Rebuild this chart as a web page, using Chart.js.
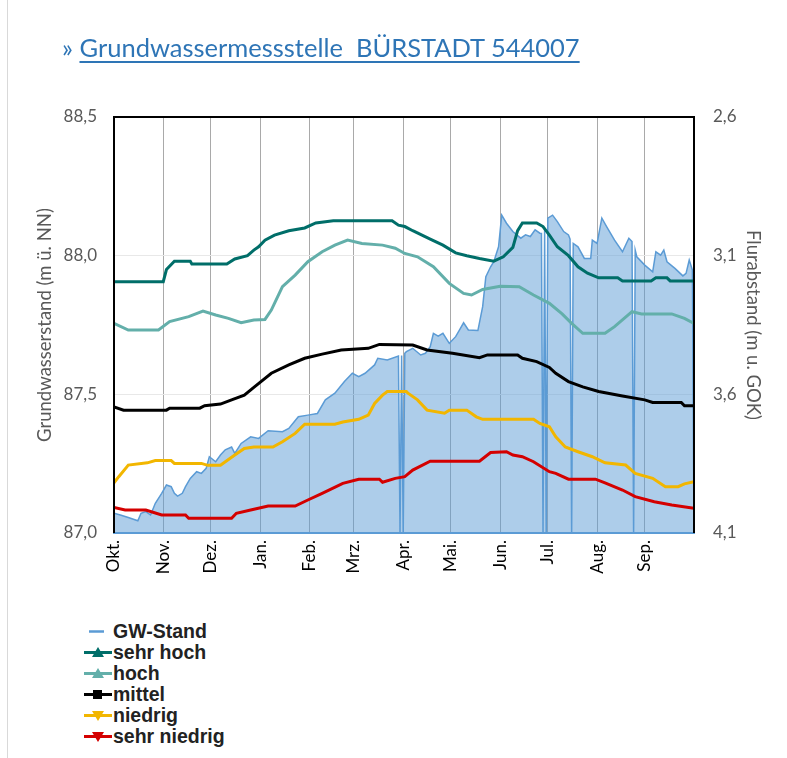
<!DOCTYPE html>
<html lang="de">
<head>
<meta charset="utf-8">
<title>Grundwassermessstelle BÜRSTADT 544007</title>
<script src="https://cdn.jsdelivr.net/npm/chart.js@4.4.1/dist/chart.umd.min.js"></script>
<style>
    html, body { margin: 0; padding: 0; background: #fff; }
    #wrap { position: relative; width: 787px; height: 758px; overflow: hidden; }
    #kante { position: absolute; left: 7px; top: 0; width: 1px; height: 758px; background: #d9d9d9; }
    #chart { position: absolute; left: 0; top: 0; }
    #titel { position: absolute; left: 62px; top: 32px; font: 25.5px Lato, sans-serif; color: #2E75B6; white-space: pre; }
    #titel span { text-decoration: underline; text-decoration-thickness: 2px; text-underline-offset: 4px; }
    #legende { position: absolute; left: 83px; top: 621px; font: bold 19.5px "Liberation Sans", Arial, sans-serif; color: #222; }
    .zeile { display: flex; align-items: center; height: 21px; white-space: nowrap; }
    .zeile svg { width: 30px; height: 21px; flex: none; }
</style>
</head>
<body>
<div id="wrap">
    <div id="kante"></div>
    <canvas id="chart" width="787" height="600"></canvas>
    <div id="titel">» <span>Grundwassermessstelle  BÜRSTADT 544007</span></div>
    <div id="legende"></div>
</div>
<script>
// Achsen
const monate = ['Okt.', 'Nov.', 'Dez.', 'Jan.', 'Feb.', 'Mrz.', 'Apr.', 'Mai.', 'Jun.', 'Jul.', 'Aug.', 'Sep.'];
const monatsTage = [0, 31, 61, 92, 123, 151, 182, 212, 243, 273, 304, 334];
const ticksLinks = [87.0, 87.5, 88.0, 88.5];   // m ü. NN
const ticksRechts = [2.6, 3.1, 3.6, 4.1];      // m u. GOK

// [Tag im Abflussjahr, Wert m ü. NN]
const gwStand = [
    [0, 87.071], [4, 87.065], [9, 87.056], [15, 87.044], [17, 87.071], [20, 87.077], [23, 87.065],
    [26, 87.107], [30, 87.143], [33, 87.173], [36, 87.167], [38, 87.143], [40, 87.133], [43, 87.143],
    [45, 87.167], [48, 87.197], [52, 87.221], [55, 87.215], [58, 87.233], [60, 87.275], [64, 87.257],
    [67, 87.281], [70, 87.30], [74, 87.31], [76, 87.287], [80, 87.323], [86, 87.347], [91, 87.341],
    [97, 87.369], [106, 87.365], [110, 87.377], [116, 87.419], [122, 87.425], [128, 87.431],
    [133, 87.48], [139, 87.504], [145, 87.546], [150, 87.576], [154, 87.564], [158, 87.576],
    [164, 87.606], [166, 87.63], [172, 87.624], [179, 87.638], [180, 87.0], [181, 87.64], [182, 87.0],
    [183, 87.648], [184, 87.654], [188, 87.666], [193, 87.642], [196, 87.648], [199, 87.672],
    [201, 87.72], [204, 87.71], [207, 87.72], [211, 87.684], [215, 87.708], [218, 87.738],
    [220, 87.758], [223, 87.732], [229, 87.73], [232, 87.816], [234, 87.924], [237, 87.96],
    [239, 87.978], [242, 88.032], [244, 88.146], [247, 88.117], [251, 88.087], [256, 88.063],
    [259, 88.075], [262, 88.069], [265, 88.093], [268, 88.081], [269, 88.08], [270, 87.0],
    [271, 88.10], [272, 87.0], [273, 88.135], [276, 88.146], [279, 88.123], [283, 88.087],
    [286, 88.075], [287, 88.06], [288, 87.0], [289, 88.044], [292, 88.032], [296, 87.99],
    [300, 87.99], [301, 88.056], [304, 88.044], [307, 88.135], [310, 88.105], [315, 88.056],
    [320, 88.014], [324, 88.063], [326, 88.051], [327, 87.0], [328, 88.02], [329, 87.996],
    [334, 87.966], [339, 87.942], [341, 88.014], [344, 88.002], [346, 88.02], [348, 87.978],
    [353, 87.954], [358, 87.927], [360, 87.936], [362, 87.984], [364, 87.948], [365, 87.0]
];
const sehrHoch = [
    [0, 87.906], [31, 87.906], [33, 87.95], [38, 87.98], [48, 87.98], [49, 87.97], [71, 87.97],
    [76, 87.988], [84, 88.0], [88, 88.02], [91, 88.032], [95, 88.056], [101, 88.074], [110, 88.09],
    [120, 88.10], [127, 88.118], [138, 88.126], [175, 88.126], [179, 88.11], [183, 88.105],
    [188, 88.09], [199, 88.06], [207, 88.038], [215, 88.01], [222, 88.0], [230, 87.99], [239, 87.98],
    [245, 87.996], [251, 88.03], [254, 88.09], [257, 88.118], [266, 88.118], [270, 88.105],
    [274, 88.074], [279, 88.032], [286, 88.0], [292, 87.96], [298, 87.937], [305, 87.92],
    [317, 87.92], [320, 87.909], [338, 87.909], [341, 87.92], [348, 87.92], [350, 87.909], [365, 87.909]
];
const hoch = [
    [0, 87.756], [9, 87.732], [28, 87.732], [35, 87.762], [47, 87.78], [56, 87.80], [64, 87.786],
    [72, 87.774], [80, 87.758], [88, 87.768], [95, 87.77], [99, 87.804], [106, 87.888], [114, 87.93],
    [122, 87.978], [131, 88.014], [139, 88.038], [147, 88.056], [156, 88.044], [169, 88.038],
    [177, 88.027], [183, 88.008], [191, 87.996], [201, 87.96], [211, 87.90], [220, 87.864],
    [225, 87.858], [232, 87.878], [243, 87.89], [255, 87.888], [264, 87.858], [274, 87.828],
    [282, 87.79], [288, 87.756], [295, 87.72], [309, 87.72], [315, 87.744], [326, 87.798],
    [332, 87.79], [351, 87.79], [359, 87.774], [365, 87.756]
];
const mittel = [
    [0, 87.455], [6, 87.443], [33, 87.443], [35, 87.45], [54, 87.45], [57, 87.459], [67, 87.465],
    [74, 87.48], [82, 87.497], [88, 87.525], [99, 87.576], [110, 87.606], [120, 87.63], [131, 87.645],
    [143, 87.66], [160, 87.666], [167, 87.68], [188, 87.678], [197, 87.66], [213, 87.648],
    [230, 87.632], [235, 87.642], [254, 87.642], [257, 87.63], [266, 87.618], [274, 87.597],
    [278, 87.576], [286, 87.546], [295, 87.527], [305, 87.51], [320, 87.494], [334, 87.48],
    [339, 87.471], [357, 87.471], [359, 87.459], [365, 87.459]
];
const niedrig = [
    [0, 87.181], [3, 87.203], [9, 87.245], [21, 87.253], [26, 87.261], [36, 87.261], [38, 87.251],
    [55, 87.251], [59, 87.244], [67, 87.244], [76, 87.281], [82, 87.305], [88, 87.31], [100, 87.31],
    [106, 87.329], [114, 87.359], [120, 87.392], [139, 87.392], [144, 87.40], [154, 87.41],
    [160, 87.425], [164, 87.467], [169, 87.497], [172, 87.51], [184, 87.51], [185, 87.504],
    [191, 87.48], [197, 87.443], [208, 87.432], [211, 87.443], [222, 87.443], [228, 87.419],
    [232, 87.41], [264, 87.41], [268, 87.395], [274, 87.383], [278, 87.347], [284, 87.31],
    [292, 87.293], [301, 87.275], [309, 87.253], [322, 87.245], [328, 87.215], [339, 87.197],
    [347, 87.167], [355, 87.167], [359, 87.177], [365, 87.185]
];
const sehrNiedrig = [
    [0, 87.092], [7, 87.083], [20, 87.083], [30, 87.065], [45, 87.065], [47, 87.053], [74, 87.053],
    [77, 87.071], [86, 87.083], [97, 87.097], [114, 87.097], [122, 87.119], [131, 87.143],
    [144, 87.179], [154, 87.194], [167, 87.194], [169, 87.183], [177, 87.197], [183, 87.203],
    [188, 87.227], [199, 87.259], [230, 87.259], [237, 87.29], [247, 87.293], [251, 87.281],
    [257, 87.275], [264, 87.257], [274, 87.221], [278, 87.215], [286, 87.194], [303, 87.194],
    [309, 87.181], [320, 87.155], [328, 87.131], [340, 87.113], [351, 87.101], [365, 87.089]
];

const toPts = arr => arr.map(([x, y]) => ({ x, y }));
const komma = v => v.toFixed(1).replace('.', ',');

function statLinie(label, data, color, pointStyle, rotation) {
    return {
        label, data: toPts(data), borderColor: color, backgroundColor: color,
        borderWidth: 3, pointRadius: 0, fill: false, tension: 0, order: 0,
        pointStyle, rotation
    };
}

// Rahmen um die Zeichenfläche (links, oben, rechts)
const rahmen = {
    id: 'rahmen',
    afterDatasetsDraw(chart) {
        const { ctx, chartArea: a } = chart;
        ctx.save();
        ctx.strokeStyle = '#000';
        ctx.lineWidth = 2;
        ctx.beginPath();
        ctx.moveTo(a.left, a.bottom);
        ctx.lineTo(a.left, a.top);
        ctx.lineTo(a.right, a.top);
        ctx.lineTo(a.right, a.bottom);
        ctx.stroke();
        ctx.restore();
    }
};

const chart = new Chart(document.getElementById('chart'), {
    type: 'line',
    data: {
        datasets: [
            {
                label: 'GW-Stand', data: toPts(gwStand), borderColor: '#5B9BD5',
                backgroundColor: 'rgba(91, 155, 213, 0.5)', borderWidth: 1.5, pointRadius: 0,
                fill: 'start', tension: 0, order: 1, pointStyle: 'line'
            },
            statLinie('sehr hoch', sehrHoch, '#006E69', 'triangle', 0),
            statLinie('hoch', hoch, '#63AFAA', 'triangle', 0),
            statLinie('mittel', mittel, '#000000', 'rect', 0),
            statLinie('niedrig', niedrig, '#F2B600', 'triangle', 180),
            statLinie('sehr niedrig', sehrNiedrig, '#D40000', 'triangle', 180)
        ]
    },
    options: {
        responsive: false,
        animation: false,
        layout: { padding: { top: 117, left: 0, right: 0, bottom: 0 } },
        plugins: { legend: { display: false }, tooltip: { enabled: false } },
        scales: {
            x: {
                type: 'linear', min: 0, max: 365,
                afterBuildTicks: s => { s.ticks = monatsTage.map(v => ({ value: v })); },
                afterFit: s => { s.height = 67; },
                ticks: {
                    callback: v => monate[monatsTage.indexOf(v)],
                    minRotation: 90, maxRotation: 90, autoSkip: false, padding: 7,
                    color: '#000', font: { family: 'Lato', size: 17 }
                },
                grid: { color: '#a9a9a9', lineWidth: 1, drawTicks: false },
                border: { color: '#5B9BD5', width: 2 }
            },
            y: {
                position: 'left', min: 87.0, max: 88.5,
                afterBuildTicks: s => { s.ticks = ticksLinks.map(v => ({ value: v })); },
                afterFit: s => { s.width = 114; },
                ticks: { callback: komma, padding: 17, color: '#595959', font: { family: 'Lato', size: 17 } },
                grid: {
                    drawTicks: false,
                    color: c => (c.tick && (c.tick.value === 87.5 || c.tick.value === 88.0)) ? '#e8e8e8' : 'rgba(0,0,0,0)'
                },
                border: { display: false },
                title: {
                    display: true, text: 'Grundwasserstand (m ü. NN)', color: '#595959',
                    font: { family: 'Lato', size: 18.5 }, padding: { top: 34, bottom: 0 }
                }
            },
            y2: {
                position: 'right', min: 2.6, max: 4.1, reverse: true,
                afterBuildTicks: s => { s.ticks = ticksRechts.map(v => ({ value: v })); },
                afterFit: s => { s.width = 93; },
                ticks: { callback: komma, padding: 19, color: '#595959', font: { family: 'Lato', size: 17 } },
                grid: { drawOnChartArea: false, drawTicks: false },
                border: { display: false },
                title: {
                    display: true, text: 'Flurabstand (m u. GOK)', color: '#595959',
                    font: { family: 'Lato', size: 18.5 }, padding: { top: 23, bottom: 0 }
                }
            }
        }
    },
    plugins: [rahmen]
});

// Legende als HTML, aus den Datensätzen erzeugt
function marker(ds) {
    const c = ds.borderColor;
    if (ds.pointStyle === 'line') {
        return `<line x1="6" y1="10.5" x2="21" y2="10.5" stroke="${c}" stroke-width="2.5"/>`;
    }
    let m;
    if (ds.pointStyle === 'rect') m = `<rect x="10" y="6" width="9" height="9" fill="${c}"/>`;
    else if (ds.rotation === 180) m = `<polygon points="9,6 21,6 15,16" fill="${c}"/>`;
    else m = `<polygon points="15,5 21,15 9,15" fill="${c}"/>`;
    return `<line x1="1" y1="10.5" x2="29" y2="10.5" stroke="${c}" stroke-width="3"/>` + m;
}
const legende = document.getElementById('legende');
chart.data.datasets.forEach(ds => {
    const z = document.createElement('div');
    z.className = 'zeile';
    z.innerHTML = `<svg viewBox="0 0 30 21">${marker(ds)}</svg><span>${ds.label}</span>`;
    legende.appendChild(z);
});
</script>
</body>
</html>
